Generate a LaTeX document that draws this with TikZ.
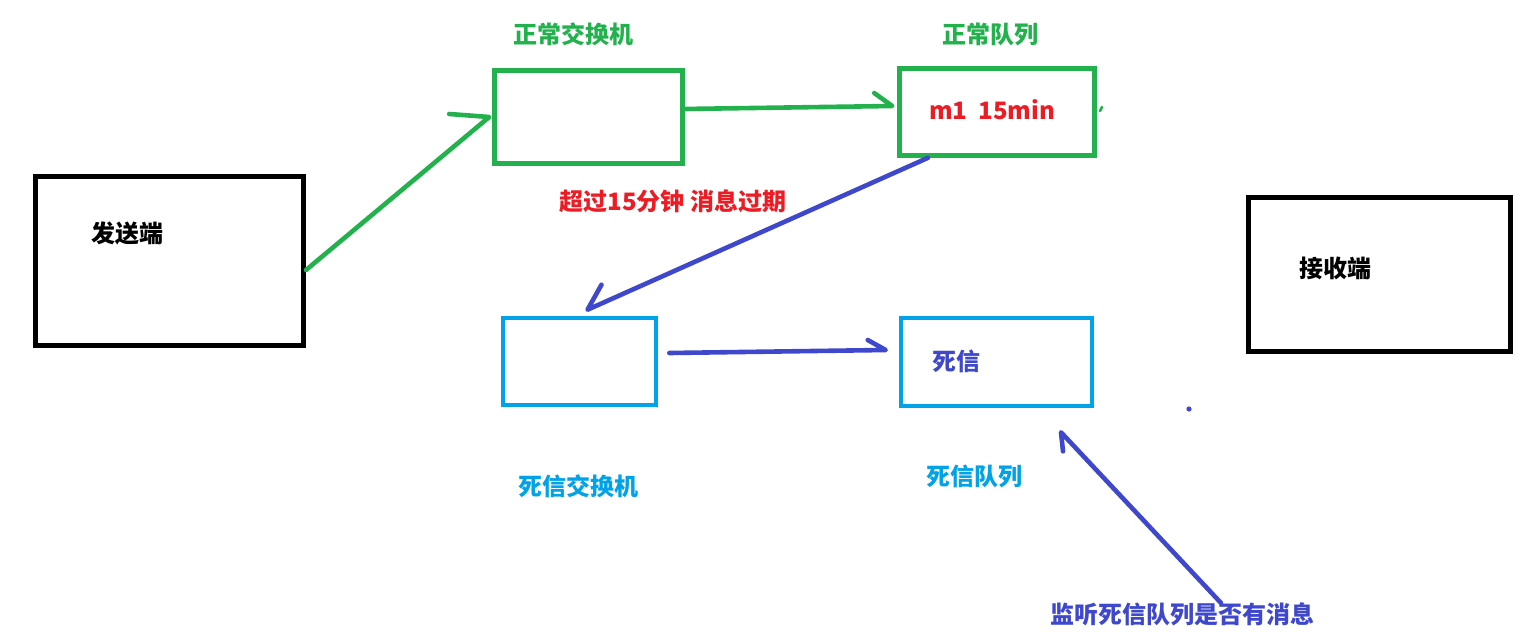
\documentclass[tikz,border=0pt]{standalone}
\usepackage{fontspec}
\setmainfont{Noto Sans CJK SC}
\usetikzlibrary{calc}
\definecolor{pgreen}{HTML}{22B14C}
\definecolor{pcyan}{HTML}{00A2E8}
\definecolor{pblue}{HTML}{3F48CC}
\definecolor{pred}{HTML}{ED1C24}
\tikzset{
  box/.style={draw, rectangle, inner sep=0pt, line width=4.6pt},
  lbl/.style={inner sep=0pt, font=\fontsize{24}{28}\selectfont\bfseries},
  conn/.style={line width=4.6pt, line cap=round, line join=round},
}
\begin{document}
\begin{tikzpicture}[x=1pt,y=-1pt]
\useasboundingbox (0,0) rectangle (1532,643);
% boxes
\node[box, black, line width=5pt, minimum width=268pt, minimum height=169pt] (send) at (169.5,261) {};
\node[box, black, line width=5pt, minimum width=262pt, minimum height=154pt] (recv) at (1379.5,274.5) {};
\node[box, pgreen, minimum width=188pt, minimum height=93pt] (nx) at (588.5,117) {};
\node[box, pgreen, minimum width=195pt, minimum height=87pt] (nq) at (997,112) {};
\node[box, pcyan, minimum width=153pt, minimum height=87pt] (dx) at (579.5,361.5) {};
\node[box, pcyan, minimum width=191pt, minimum height=88pt] (dq) at (996.5,362) {};
% texts
\node[lbl, black] (sendt) at (127,233) {发送端};
\node[lbl, black] (recvt) at (1335,268) {接收端};
\node[lbl, pgreen] (nxl) at (573,34) {正常交换机};
\node[lbl, pgreen] (nql) at (990,34) {正常队列};
\node[lbl, pred] (nqt) at (992,110) {m1\ \ 15min};
\node[lbl, pred] (exp) at (673,201) {超过15分钟 消息过期};
\node[lbl, pcyan] (dxl) at (578,486) {死信交换机};
\node[lbl, pblue] (dqt) at (956,361) {死信};
\node[lbl, pcyan] (dql) at (974,476) {死信队列};
\node[lbl, pblue] (lst) at (1182,614) {监听死信队列是否有消息};
% connectors
\coordinate (a5s) at (1221,603);
\draw[conn, pgreen] ($(send.east)+(0,9)$) -- ($(nx.west)+(-3,0)$) -- ++(-40,-3);
\draw[conn, pgreen] ($(nx.east)+(-2,-8)$) -- ($(nq.west)+(-5,-6)$) -- ++(-18,-13);
\draw[conn, pblue] ($(nq.south)+(-69,0)$) -- ($(dx.north)+(8,-6)$) -- ++(14,-25);
\draw[conn, pblue] ($(dx.east)+(11,-8.5)$) -- ($(dq.west)+(-13,-12)$) -- ++(-18,-10);
\draw[conn, pblue] (a5s) -- ($(dq.south)+(64.5,24)$) -- ++(2,19);
% stray marks
\fill[pblue] (1189,409) circle (2.6);
\draw[pgreen, line width=2.5pt, line cap=round] (1102,107) -- (1100,111);
\end{tikzpicture}
\end{document}
